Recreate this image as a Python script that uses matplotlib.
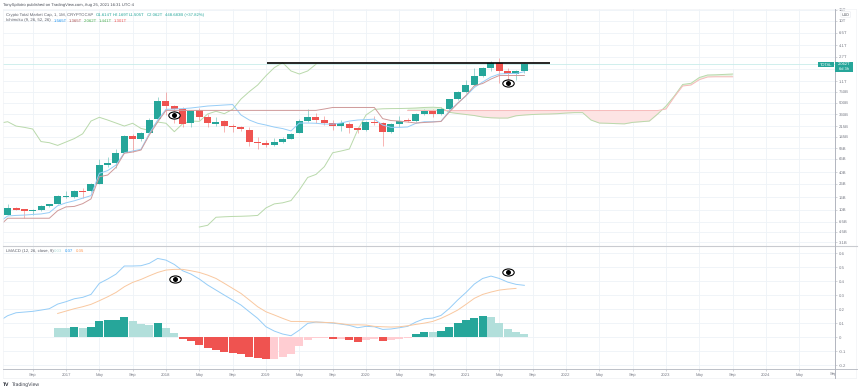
import numpy as np
import matplotlib
matplotlib.use("Agg")
import matplotlib.pyplot as plt
from matplotlib.patches import Rectangle
from matplotlib.lines import Line2D
from matplotlib.path import Path
from matplotlib.transforms import Affine2D, Bbox
from matplotlib.ticker import NullLocator

plt.rcParams['font.family'] = ['Liberation Sans', 'DejaVu Sans']
plt.rcParams['text.hinting'] = 'no_hinting'
plt.rcParams['text.hinting_factor'] = 8

# ---- data (USD billions; month 0 = Jan 2017) ----
candle_start = -7
opens = [8.3,10.9,10.2,9.5,10.0,11.4,12.4,16.2,16.3,19.9,19.9,26.1,52.5,56.2,81,151,132.5,169,275,537,447,396,238,386,302,233,
         255,217,205,189,120,116,106,122,136,165,258,296,268,240,215,234,197,183,252,238,175,234,272,258,338,369,338,401,577,757,963,1354,1820,2179,1610,1441,1614]
highs = [12.6,11.0,10.2,10.3,11.8,12.5,17.0,19.9,20.7,22.2,26.5,64.4,70.1,91.7,155,160,172,288,622,757,464,434,386,411,334,296,
         268,231,215,205,145,127,137,144,166,278,396,344,310,268,268,252,208,258,310,252,243,310,285,344,396,396,434,588,785,1157,1780,1880,2320,2560,1780,1668,2169]
lows = [8.3,10.0,7.4,8.3,9.8,11.1,12.3,15.5,15.6,15.5,19.3,25.5,48.6,45.9,80,84.3,125.5,166,268,322,240,206,207,268,208,215,
        175,175,180,105,92,101,103.6,116,132,164,251,238,223,186,181,169,169,180,223,105.5,169,207,249,252,322,302,322,363,566,725,929,1310,1610,1037,1157,1157,1505]
closes = [10.8,10.1,9.5,10.0,11.6,12.3,16.5,16.6,20.0,19.3,26.2,51.8,56.2,80.2,151,132.5,169,272,537,447,396,231,376,302,238,252,
          215,205,193,122,117,106,120,136,162,258,296,268,240,215,238,197,183,249,238,175,234,258,255,334,369,338,396,577,757,963,1354,1820,2179,1610,1441,1610,2062]

line_start = -8
conversion = [6.45,8.04,8.2,8.3,8.5,8.65,9.1,11.7,13,14,15.4,16.9,38.2,42.2,51.8,81,86.3,92,164,268,396,401,406,416,431,447,455,464,472,322,268,238,223,207,196,180,240,240,238,231,231,240,258,268,272,277,223,205,205,208,238,252,252,256,372,499,645,880,1076,1292,1441,1467,1467,1565]
base = [5.57,7.4,7.4,7.4,7.4,7.4,7.4,9.75,11.2,11.4,12.6,15,33.7,35.9,47.6,79.5,83.2,89.5,155,249,381,381,381,381,381,381,381,381,381,381,381,381,381,381,381,381,381,381,381,401,424,424,424,424,424,424,282,263,258,249,240,245,249,254,359,490,657,939,1018,1200,1365,1365,1365,1365]

span_a_start = 16
span_a = [5.37,5.72,7.67,7.8,7.9,7.95,8.04,8.2,10.8,12.5,13.0,14.1,20.8,32.8,36.7,48.7,81.0,86.3,92.8,186,322,396,404,407,408,411,416,424,428,421,355,340,328,316,299,291,288,288,313,322,328,332,334,338,346,351,351,268,240,238,235,233,246,252,258,334,447,645,983,1026,1268,1390,1400,1420,1441]
span_b_start = 41
span_b = [379,379,379,379,379,379,379,379,379,379,379,379,379,379,379,379,379,379,379,379,379,379,379,379,379,379,379,379,379,379,379,401,622,929,963,1170,1292,1301,1301,1301]
lagging_shift = 25

resistance_months = [24.1, 58.1]
resistance_level = 2180
last_price = 2062

macd_start = -8
macd = [.117,.155,.176,.181,.186,.195,.205,.238,.255,.276,.286,.307,.386,.417,.452,.510,.510,.512,.529,.564,.552,.521,.476,.452,.417,.374,.338,.302,.267,.231,.183,.136,.076,.045,.024,.012,.052,.100,.110,.107,.102,.095,.086,.069,.079,.076,.057,.060,.069,.079,.110,.133,.138,.157,.207,.267,.321,.381,.421,.438,.421,.395,.379,.372]
signal_start = -1
signal = [.171,.188,.205,.219,.236,.262,.290,.321,.362,.393,.414,.440,.464,.481,.486,.486,.476,.464,.445,.421,.386,.35,.314,.267,.219,.183,.160,.136,.114,.114,.112,.110,.107,.105,.098,.090,.090,.088,.079,.076,.074,.076,.083,.093,.102,.114,.136,.164,.195,.236,.279,.307,.324,.338,.345,.350]
hist_start = -1
hist = [.067,.067,.071,.064,.071,.117,.121,.126,.145,.114,.093,.088,.100,.069,.031,-.014,-.029,-.052,-.074,-.090,-.102,-.110,-.119,-.138,-.148,-.155,-.152,-.140,-.117,-.062,-.019,-.003,-.003,-.012,-.011,-.019,-.031,-.019,-.014,-.026,-.019,-.010,-.003,.024,.038,.037,.048,.074,.102,.124,.140,.152,.143,.102,.060,.036,.026]

eyes_main = ([13, 53], [320, 1037])
eyes_macd = ([13.1, 53], [.417, .464])

price_ticks = [15000,10000,6500,4100,2700,1700,1100,750,500,330,215,145,95,65,40,26,16,10,6.5,4.5,3.1]
price_labels = ['15T','10T','6.5T','4.1T','2.7T','','1.1T','750B','500B','330B','215B','145B','95B','65B','40B','26B','16B','10B','6.5B','4.5B','3.1B']
macd_ticks = [.6,.5,.4,.3,.2,.1,0,-.1,-.2]
macd_labels = ['0.6','0.5','0.4','0.3','0.2','0.1','0','-0.1','-0.2']
time_ticks = list(range(-4, 92, 4))
time_labels = ['Sep','2017','May','Sep','2018','May','Sep','2019','May','Sep','2020','May','Sep','2021','May','Sep','2022','May','Sep','2023','May','Sep','2024','May']

# ---- colours ----
UP, DOWN = '#26a69a', '#ef5350'
UP_L, DOWN_L = '#b2dfdb', '#ffcdd2'
GRID = '#eef3f7'
AXIS = '#b2b5be'
TXT = '#787b86'
C_CONV, C_BASE, C_GREEN, C_SPANB = '#96cdf7', '#cf9a9a', '#b9d9ab', '#f7b9b9'
C_MACD, C_SIG = '#96cdf7', '#f9c8a0'
FS = 3.1

# ---- layout (pixels) ----
W, H = 860, 391
L, R = 3, 834.5
fig = plt.figure(figsize=(W/100, H/100), dpi=100, facecolor='white')

def axes_px(x0, x1, ytop, ybot):
    return fig.add_axes([x0/W, 1-ybot/H, (x1-x0)/W, (ybot-ytop)/H])

ax = axes_px(L, R, 9, 246)
ax2 = axes_px(L, R, 247, 369)
xlim = ((L-66)/8.3333, (R-66)/8.3333)

for a in (ax, ax2):
    a.set_xlim(*xlim)
    for s in a.spines.values():
        s.set_visible(False)
    a.set_axisbelow(True)
    a.set_xticks(time_ticks)
    a.grid(True, color=GRID, lw=0.6)
    a.yaxis.tick_right()
    a.tick_params(axis='y', length=1.6, width=0.4, color=AXIS, labelsize=FS, labelcolor=TXT, pad=1.4)
    a.tick_params(axis='x', length=0)
ax.set_xticklabels([])

ax.set_yscale('log')
top = 10**(4.3333-9/63); bot = 10**(4.3333-246/63)
ax.set_ylim(bot, top)
ax.set_yticks(price_ticks, price_labels)
ax.yaxis.set_minor_locator(NullLocator())

# candles
m = np.arange(candle_start, candle_start+len(closes))
o, h, l, c = map(np.array, (opens, highs, lows, closes))
cols = [UP if ci >= oi else DOWN for oi, ci in zip(o, c)]
ax.vlines(m, l, h, colors=cols, lw=0.55, alpha=0.55, zorder=3)
ax.bar(m, np.abs(c-o), bottom=np.minimum(o, c), width=0.84, color=cols, lw=0, zorder=4)

# price line and ichimoku
ax.axhline(last_price, color='#c9ecea', lw=0.6, zorder=2)
lm = np.arange(line_start, line_start+len(conversion))
ax.plot(lm, conversion, color=C_CONV, lw=0.7, zorder=5)
ax.plot(lm, base, color=C_BASE, lw=0.7, zorder=5)
ax.plot(m-lagging_shift, c, color=C_GREEN, lw=0.7, zorder=3.5)
am = np.arange(span_a_start, span_a_start+len(span_a))
bm = np.arange(span_b_start, span_b_start+len(span_b))
sa = np.array(span_a); sb = np.array(span_b)
ax.plot(am, sa, color=C_GREEN, lw=0.7, zorder=3.5)
ax.plot(bm, sb, color=C_SPANB, lw=0.7, zorder=3.5)
sa_b = sa[span_b_start-span_a_start:]
ax.fill_between(bm, sa_b, sb, where=sb >= sa_b, interpolate=True, color='#fde4e4', lw=0, zorder=2.5)
ax.fill_between(bm, sa_b, sb, where=sb < sa_b, interpolate=True, color='#e6f3e1', lw=0, zorder=2.5)

ax.plot(resistance_months, [resistance_level]*2, color='black', lw=1.2, zorder=6, solid_capstyle='butt')

# macd
ax2.set_ylim((337.4-369)/140, (337.4-247)/140)
ax2.set_yticks(macd_ticks, macd_labels)
hm = np.arange(hist_start, hist_start+len(hist))
hcols = []
for i, v in enumerate(hist):
    prev = hist[i-1] if i else v
    if v >= 0:
        hcols.append(UP if v > prev else UP_L)
    else:
        hcols.append(DOWN if v < prev else DOWN_L)
ax2.bar(hm, hist, width=0.93, color=hcols, lw=0, zorder=3)
ax2.plot(np.arange(macd_start, macd_start+len(macd)), macd, color=C_MACD, lw=0.7, zorder=4)
ax2.plot(np.arange(signal_start, signal_start+len(signal)), signal, color=C_SIG, lw=0.7, zorder=4)

ax2.set_xticklabels(time_labels)
ax2.tick_params(axis='x', length=1.4, width=0.4, color=AXIS, labelsize=FS, labelcolor=TXT, pad=1.8)

# eye annotations
eye = Path.unit_circle().transformed(Affine2D().scale(1, 0.62))
for a, (ex, ey) in ((ax, eyes_main), (ax2, eyes_macd)):
    a.plot(ex, ey, ls='', marker=eye, ms=8.2, mfc='white', mec='black', mew=0.8, zorder=7)
    a.plot(ex, ey, ls='', marker='o', ms=3.6, mfc='black', mec='black', mew=0, zorder=8)

# frame lines
def hline(y, x0, x1, color, lw):
    fig.add_artist(Line2D([x0/W, x1/W], [1-y/H]*2, color=color, lw=lw, zorder=1))
def vline(x, y0, y1, color, lw):
    fig.add_artist(Line2D([x/W]*2, [1-y0/H, 1-y1/H], color=color, lw=lw, zorder=1))
hline(9.3, L, 856, '#f1f3f6', 0.5)
hline(378, L, 856, '#eef0f3', 0.5)
vline(856, 9.3, 378, '#f1f3f6', 0.5)
vline(L, 9.3, 378, '#f1f3f6', 0.5)
hline(246, L, 857, '#c9cbd0', 0.8)
hline(369.3, L, 857, AXIS, 0.6)
vline(R, 9, 378, AXIS, 0.7)

def T(x, y, s, color=TXT, size=FS, **k):
    k.setdefault('va', 'center'); k.setdefault('ha', 'left')
    return fig.text(x/W, 1-y/H, s, color=color, fontsize=size, **k)

# clipped last time label
lbl = T(829.5, 374, 'Sep')
lbl.set_clip_box(Bbox([[0, 0], [R, H]]))
lbl.set_clip_on(True)

# header texts
T(3, 5, 'TonySpilotro published on TradingView.com, Aug 25, 2021 16:31 UTC-4', '#4a4e58', 3.0)
T(6, 14.7, 'Crypto Total Market Cap, 1, 1M, CRYPTOCAP', '#5d606b', 3.05)
for x, s in ((95.5, 'O1.614T'), (113, 'H2.169T'), (128.5, 'L1.505T'), (146.5, 'C2.062T'), (165, '448.683B (+37.82%)')):
    T(x, 14.7, s, UP, 3.05)
T(6, 20.5, 'Ichimoku (9, 26, 52, 26)', '#5d606b', 3.05)
for x, s, col in ((53.5, '1.565T', '#2196f3'), (68.5, '1.365T', '#b05555'), (84, '2.062T', '#4caf50'), (99, '1.441T', '#4caf50'), (114, '1.301T', '#ef5350')):
    T(x, 20.5, s, col, 3.05)
T(6, 251, 'LMACD (12, 26, close, 9)', '#5d606b', 3.05)
for x, s, col in ((54, '0.03', UP_L), (65, '0.37', '#2196f3'), (76, '0.35', '#ff9850')):
    T(x, 251, s, col, 3.05)

# price labels
fig.add_artist(Rectangle((817.7/W, 1-67.3/H), 16.6/W, 5.6/H, transform=fig.transFigure, fc=UP, lw=0, zorder=2))
fig.add_artist(Rectangle((834.7/W, 1-71.7/H), 18/W, 10/H, transform=fig.transFigure, fc=UP, lw=0, zorder=2))
T(825.8, 64.6, 'TOTAL', 'white', 2.9, ha='center')
T(843.7, 64.3, '2.062T', 'white', 2.9, ha='center')
T(843.7, 69.2, '6d 3h', 'white', 2.9, ha='center')
T(845.8, 14.6, 'USD', '#4a4e58', 2.7, ha='center',
  bbox=dict(boxstyle='round,pad=0.25', fc='white', ec='#e0e3eb', lw=0.3))

# footer
T(3, 385, 'TV', '#131722', 3.6, fontweight='bold')
T(11.5, 385, 'TradingView', '#3b3f4a', 3.7)

fig.savefig('out.png', dpi=100)
